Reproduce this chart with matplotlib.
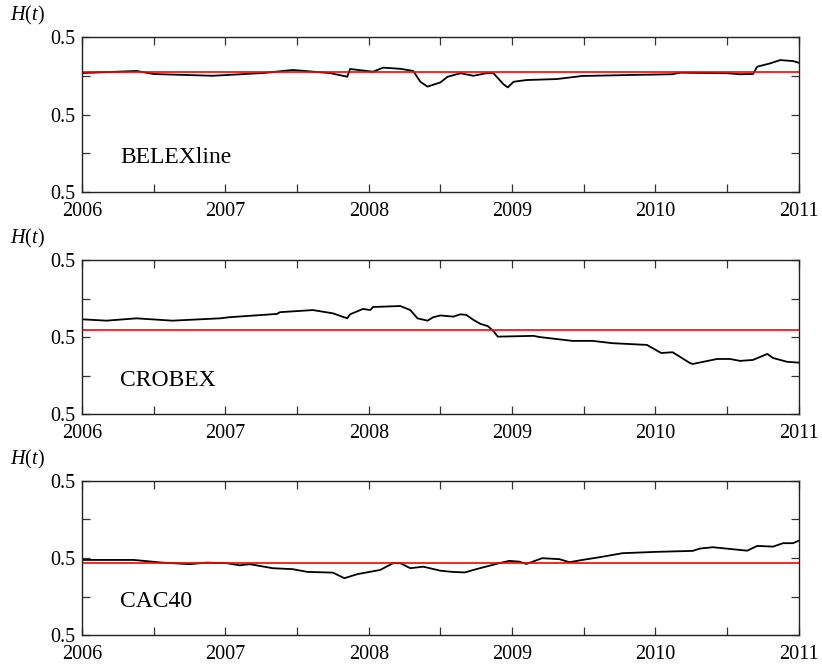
import numpy as np
import matplotlib
matplotlib.use("Agg")
import matplotlib.pyplot as plt
from matplotlib.ticker import FixedLocator, MultipleLocator, FormatStrFormatter

plt.rcParams['font.family'] = ['Liberation Serif', 'DejaVu Serif']
plt.rcParams['mathtext.fontset'] = 'custom'
plt.rcParams['mathtext.it'] = 'Liberation Serif:italic'
plt.rcParams['mathtext.rm'] = 'Liberation Serif'

# BELEXline: time (years) and H(t)
belex_t = [2006.0, 2006.38, 2006.50, 2006.91, 2007.26, 2007.47, 2007.73, 2007.85, 2007.87,
           2008.03, 2008.10, 2008.22, 2008.31, 2008.36, 2008.41, 2008.48, 2008.50, 2008.55,
           2008.64, 2008.73, 2008.82, 2008.87, 2008.94, 2008.97, 2009.01, 2009.10, 2009.31,
           2009.49, 2009.89, 2010.12, 2010.17, 2010.50, 2010.59, 2010.68, 2010.71, 2010.80,
           2010.87, 2010.96, 2011.0]
belex_h = [0.5214, 0.5225, 0.5209, 0.5200, 0.5214, 0.5230, 0.5214, 0.5195, 0.5235,
           0.5221, 0.5242, 0.5236, 0.5225, 0.5169, 0.5144, 0.5161, 0.5166, 0.5195,
           0.5213, 0.5200, 0.5213, 0.5213, 0.5156, 0.5140, 0.5169, 0.5178, 0.5183,
           0.5199, 0.5205, 0.5208, 0.5216, 0.5213, 0.5208, 0.5209, 0.5247, 0.5264,
           0.5281, 0.5276, 0.5267]
belex_mean = 0.5219

# CROBEX
crobex_t = [2006.0, 2006.17, 2006.38, 2006.63, 2006.96, 2007.03, 2007.36, 2007.38, 2007.61,
            2007.75, 2007.85, 2007.87, 2007.96, 2008.01, 2008.03, 2008.22, 2008.29, 2008.34,
            2008.41, 2008.45, 2008.50, 2008.59, 2008.64, 2008.68, 2008.73, 2008.78, 2008.83,
            2008.87, 2008.90, 2009.15, 2009.19, 2009.42, 2009.56, 2009.70, 2009.94, 2010.04,
            2010.12, 2010.24, 2010.26, 2010.43, 2010.52, 2010.59, 2010.68, 2010.78, 2010.82,
            2010.92, 2011.0]
crobex_h = [0.5092, 0.5085, 0.5097, 0.5085, 0.5097, 0.5103, 0.5120, 0.5129, 0.5140,
            0.5123, 0.5097, 0.5118, 0.5146, 0.5140, 0.5156, 0.5161, 0.5140, 0.5097,
            0.5085, 0.5103, 0.5112, 0.5106, 0.5118, 0.5115, 0.5089, 0.5068, 0.5057,
            0.5031, 0.5002, 0.5006, 0.5000, 0.4980, 0.4980, 0.4968, 0.4959, 0.4917,
            0.4921, 0.4865, 0.4860, 0.4886, 0.4886, 0.4876, 0.4881, 0.4912, 0.4891,
            0.4871, 0.4867]
crobex_mean = 0.5037

# CAC40
cac_t = [2006.0, 2006.36, 2006.56, 2006.75, 2006.87, 2007.01, 2007.10, 2007.17, 2007.33,
         2007.47, 2007.57, 2007.75, 2007.83, 2007.92, 2008.08, 2008.17, 2008.22, 2008.29,
         2008.38, 2008.50, 2008.58, 2008.67, 2008.75, 2008.91, 2008.98, 2009.05, 2009.10,
         2009.21, 2009.33, 2009.40, 2009.49, 2009.61, 2009.77, 2010.01, 2010.26, 2010.31,
         2010.40, 2010.64, 2010.71, 2010.82, 2010.89, 2010.96, 2011.0]
cac_h = [0.4990, 0.4990, 0.4976, 0.4968, 0.4976, 0.4973, 0.4962, 0.4968, 0.4947,
         0.4942, 0.4928, 0.4924, 0.4895, 0.4916, 0.4938, 0.4973, 0.4973, 0.4947,
         0.4955, 0.4934, 0.4928, 0.4925, 0.4942, 0.4973, 0.4985, 0.4981, 0.4969,
         0.4999, 0.4994, 0.4978, 0.4990, 0.5004, 0.5025, 0.5032, 0.5037, 0.5049,
         0.5056, 0.5038, 0.5063, 0.5059, 0.5077, 0.5077, 0.5090]
cac_mean = 0.4973

panels = [("BELEXline", belex_t, belex_h, belex_mean),
          ("CROBEX", crobex_t, crobex_h, crobex_mean),
          ("CAC40", cac_t, cac_h, cac_mean)]

y_major = [0.46, 0.50, 0.54]
y_minor = [0.48, 0.52]

fig = plt.figure(figsize=(8.22, 6.65), dpi=100)
boxes = [[0.0998, 0.7113, 0.872, 0.233],
         [0.0998, 0.3774, 0.872, 0.2316],
         [0.0998, 0.0451, 0.872, 0.2316]]

for box, (name, t, h, m) in zip(boxes, panels):
    ax = fig.add_axes(box)
    ax.plot(t, h, color='black', lw=1.3)
    ax.axhline(m, color='#ff0000', lw=1.2)
    ax.set_xlim(2006, 2011)
    ax.set_ylim(0.46, 0.54)
    ax.xaxis.set_major_locator(MultipleLocator(1))
    ax.xaxis.set_minor_locator(MultipleLocator(0.5))
    ax.xaxis.set_major_formatter(FormatStrFormatter('%d'))
    ax.yaxis.set_major_locator(FixedLocator(y_major))
    ax.yaxis.set_minor_locator(FixedLocator(y_minor))
    ax.yaxis.set_major_formatter(FormatStrFormatter('%.1f'))
    ax.tick_params(which='both', direction='in', top=True, right=True,
                   labelsize=14.5, length=6, width=0.9, color='#333333')
    ax.tick_params(axis='x', pad=7)
    ax.tick_params(axis='y', pad=5)
    for s in ax.spines.values():
        s.set_color('#222222')
        s.set_linewidth(1.0)
    ax.text(0.053, 0.22, name, transform=ax.transAxes, fontsize=17,
            va='center', ha='left')
    ax.text(-0.1, 1.14, r'$H(t)$', transform=ax.transAxes, fontsize=14.5,
            va='center', ha='left')

fig.savefig('out.png', dpi=100)
